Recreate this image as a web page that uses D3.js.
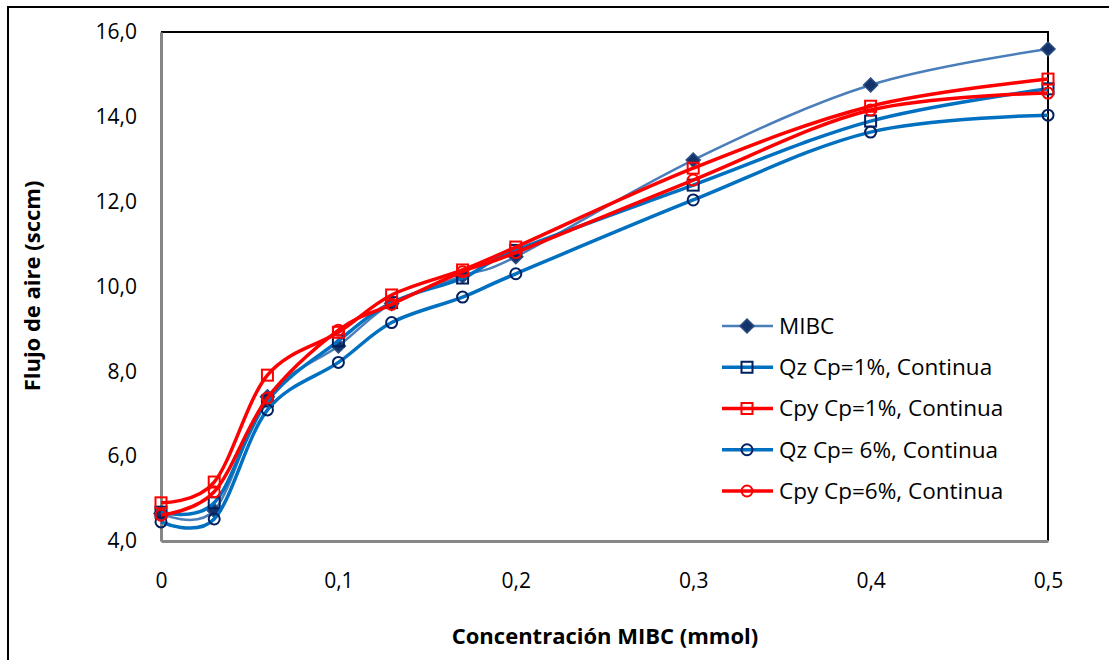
<!DOCTYPE html>
<html lang="es">
<head>
    <meta charset="UTF-8">
    <script src="https://cdn.jsdelivr.net/npm/d3@7"></script>
    <style>
        body{ margin:0; background:#fff; }
        text{ font-family:"Open Sans", "Liberation Sans", sans-serif; fill:#000; }
    </style>
    <title>Flujo de aire</title>
</head>
<body>
    <svg width="1109" height="660"></svg>
    <script>
        // data
        var conc = [0, 0.03, 0.06, 0.1, 0.13, 0.17, 0.2, 0.3, 0.4, 0.5];
        var mibc = [4.65, 4.72, 7.4, 8.6, 9.6, 10.25, 10.7, 12.98, 14.75, 15.6];
        var qz1  = [4.68, 4.9, 7.3, 8.72, 9.62, 10.2, 10.85, 12.39, 13.9, 14.66];
        var cpy1 = [4.9, 5.39, 7.91, 8.92, 9.8, 10.39, 10.93, 12.79, 14.25, 14.89];
        var qz6  = [4.45, 4.52, 7.09, 8.21, 9.15, 9.75, 10.3, 12.04, 13.64, 14.04];
        var cpy6 = [4.61, 5.16, 7.37, 8.97, 9.58, 10.35, 10.8, 12.51, 14.16, 14.56];
        var seriesNames = ["MIBC", "Qz Cp=1%, Continua", "Cpy Cp=1%, Continua", "Qz Cp= 6%, Continua", "Cpy Cp=6%, Continua"];
        var xTicks = [0, 0.1, 0.2, 0.3, 0.4, 0.5];
        var yTicks = [4, 6, 8, 10, 12, 14, 16];

        var series = [
            {name:seriesNames[0], values:mibc, line:"#4A7EBB", width:2.5, marker:"diamond", mstroke:"#2C4D80", mfill:"#14336B"},
            {name:seriesNames[1], values:qz1,  line:"#0070C0", width:3.5, marker:"square",  mstroke:"#002060", mfill:"none"},
            {name:seriesNames[2], values:cpy1, line:"#FF0000", width:3.5, marker:"square",  mstroke:"#FF0000", mfill:"none"},
            {name:seriesNames[3], values:qz6,  line:"#0070C0", width:3.5, marker:"circle",  mstroke:"#002060", mfill:"none"},
            {name:seriesNames[4], values:cpy6, line:"#FF0000", width:3.5, marker:"circle",  mstroke:"#FF0000", mfill:"none"}
        ];

        var svg = d3.select("svg");
        var plotL = 161, plotR = 1048, plotT = 32, plotB = 541;

        // outer chart frame (runs off the picture on the right and bottom)
        svg.append("rect")
            .attr("x", 8).attr("y", 7)
            .attr("width", 1200).attr("height", 800)
            .attr("fill", "none").attr("stroke", "#000").attr("stroke-width", 2);

        var x = d3.scaleLinear().domain([0, 0.5]).range([plotL, plotR]);
        var y = d3.scaleLinear().domain([4, 16]).range([plotB, plotT]);

        // plot area border: black top/right
        svg.append("path")
            .attr("d", "M" + plotL + "," + plotT + "H" + plotR + "V" + plotB)
            .attr("fill", "none").attr("stroke", "#000").attr("stroke-width", 2);

        var fmt = function(d){ return d3.format(".1f")(d).replace(".", ","); };
        var fmtX = function(d){ return d === 0 ? "0" : String(d).replace(".", ","); };

        var gx = svg.append("g")
            .attr("transform", "translate(0," + plotB + ")")
            .call(d3.axisBottom(x).tickValues(xTicks).tickFormat(fmtX).tickSize(0).tickPadding(32));
        var gy = svg.append("g")
            .attr("transform", "translate(" + plotL + ",0)")
            .call(d3.axisLeft(y).tickValues(yTicks).tickFormat(fmt).tickSize(0).tickPadding(24));
        [gx, gy].forEach(function(g){
            g.select(".domain").attr("stroke", "#868686").attr("stroke-width", 3);
            g.selectAll("text").attr("font-size", "21px").attr("font-family", "'Open Sans', sans-serif");
        });

        svg.append("text")
            .attr("x", 605).attr("y", 644)
            .attr("text-anchor", "middle")
            .attr("font-size", "22px").attr("font-weight", "bold")
            .text("Concentración MIBC (mmol)");
        svg.append("text")
            .attr("transform", "translate(40,286) rotate(-90)")
            .attr("text-anchor", "middle")
            .attr("font-size", "22px").attr("font-weight", "bold")
            .text("Flujo de aire (sccm)");

        var line = d3.line()
            .x(function(d){ return x(d[0]); })
            .y(function(d){ return y(d[1]); })
            .curve(d3.curveCardinal.tension(0));

        function drawMarker(g, s, cx, cy){
            if (s.marker === "diamond") {
                g.append("path")
                    .attr("d", "M" + cx + "," + (cy - 7) + "L" + (cx + 7) + "," + cy + "L" + cx + "," + (cy + 7) + "L" + (cx - 7) + "," + cy + "Z")
                    .attr("fill", s.mfill).attr("stroke", s.mstroke).attr("stroke-width", 1.5);
            } else if (s.marker === "square") {
                g.append("rect")
                    .attr("x", cx - 5.5).attr("y", cy - 5.5)
                    .attr("width", 11).attr("height", 11)
                    .attr("fill", s.mfill).attr("stroke", s.mstroke).attr("stroke-width", 2);
            } else {
                g.append("circle")
                    .attr("cx", cx).attr("cy", cy).attr("r", 5.5)
                    .attr("fill", s.mfill).attr("stroke", s.mstroke).attr("stroke-width", 2);
            }
        }

        series.forEach(function(s){
            var pts = conc.map(function(c, i){ return [c, s.values[i]]; });
            var g = svg.append("g");
            g.append("path")
                .attr("d", line(pts))
                .attr("fill", "none")
                .attr("stroke", s.line)
                .attr("stroke-width", s.width);
            pts.forEach(function(p){ drawMarker(g, s, x(p[0]), y(p[1])); });
        });

        // legend
        var legY = d3.scaleLinear().domain([0, 4]).range([326, 491]);
        series.forEach(function(s, i){
            var ly = legY(i);
            var g = svg.append("g");
            g.append("line")
                .attr("x1", 722).attr("x2", 773)
                .attr("y1", ly).attr("y2", ly)
                .attr("stroke", s.line).attr("stroke-width", s.width);
            drawMarker(g, s, 747, ly);
            g.append("text")
                .attr("x", 779).attr("y", ly)
                .attr("dy", "0.35em")
                .attr("font-size", "22.5px")
                .text(s.name);
        });
    </script>
</body>
</html>
